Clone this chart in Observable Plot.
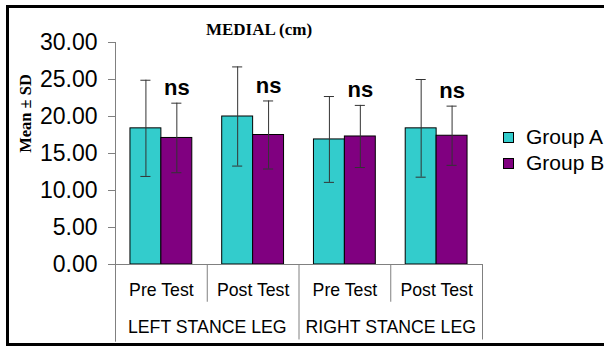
<!DOCTYPE html>
<html>
<head>
<meta charset="utf-8">
<script src="https://cdn.jsdelivr.net/npm/d3@7"></script>
<script src="https://cdn.jsdelivr.net/npm/@observablehq/plot@0.6"></script>
<style>
  html, body { margin: 0; padding: 0; background: #fff; }
  #wrap { position: relative; width: 604px; height: 347px; overflow: hidden; }
  #frame { position: absolute; left: 6px; top: 5px; width: 700px; height: 335px;
           border: 3px solid #000; border-right: none; pointer-events: none; }
  .leg { position: absolute; left: 503px; font-family: "Liberation Sans", Arial, sans-serif;
         font-size: 21px; color: #000; display: flex; align-items: center; height: 24px;
         white-space: nowrap; width: 120px; }
  .sw { flex: none; width: 9px; height: 9px; border: 1px solid #000; margin-right: 12px; }
</style>
</head>
<body>
<div id="wrap">
  <div id="chart"></div>
  <div id="frame"></div>
  <div id="legend"></div>
</div>
<script>
const categories = ["Pre Test", "Post Test", "Pre Test", "Post Test"];
const legs = ["LEFT STANCE LEG", "RIGHT STANCE LEG"];
const groups = ["Group A", "Group B"];
const colors = ["#33CCCC", "#800080"];
const meanA = [18.4, 20.0, 16.9, 18.4];
const sdA = [6.5, 6.7, 5.8, 6.6];
const meanB = [17.1, 17.5, 17.3, 17.4];
const sdB = [4.7, 4.6, 4.2, 4.0];
const yTicks = [0, 5, 10, 15, 20, 25, 30];
const title = "MEDIAL (cm)";
const yLabel = "Mean ± SD";
const sigLabel = "ns";

const pad = 0.163;
const bars = categories.flatMap((c, i) => [
  {i, g: groups[0], mean: meanA[i], sd: sdA[i], x1: i + pad, x2: i + 0.5},
  {i, g: groups[1], mean: meanB[i], sd: sdB[i], x1: i + 0.5, x2: i + 1 - pad}
]).map(d => ({...d, c: (d.x1 + d.x2) / 2}));
const barsB = bars.filter(d => d.g === groups[1]);
const cap = 0.055;
const bounds = d3.range(categories.length + 1);

const chart = Plot.plot({
  width: 604, height: 347,
  marginLeft: 115, marginRight: 122, marginTop: 42, marginBottom: 83,
  x: {domain: [0, categories.length], axis: null},
  y: {domain: [0, 30], axis: null},
  color: {domain: groups, range: colors},
  style: {fontFamily: "'Liberation Sans', Arial, sans-serif", background: "transparent", color: "#000"},
  marks: [
    Plot.rect(bars, {x1: "x1", x2: "x2", y1: 0, y2: "mean", fill: "g", stroke: "#000", strokeWidth: 1}),
    Plot.ruleX(bars, {x: "c", y1: d => d.mean - d.sd, y2: d => d.mean + d.sd, stroke: "#333", strokeWidth: 1}),
    Plot.ruleY(bars, {x1: d => d.c - cap, x2: d => d.c + cap, y: d => d.mean + d.sd, stroke: "#333"}),
    Plot.ruleY(bars, {x1: d => d.c - cap, x2: d => d.c + cap, y: d => d.mean - d.sd, stroke: "#333"}),
    Plot.ruleY([0], {x1: 0, x2: categories.length, stroke: "#808080"}),
    Plot.ruleX([0], {y1: 30, y2: -10.5, stroke: "#808080"}),
    Plot.ruleX(bounds.filter(b => b > 0 && b % 2 === 0), {y1: 0, y2: -10.2, stroke: "#808080"}),
    Plot.ruleX(bounds.filter(b => b % 2 === 1), {y1: 0, y2: -5.1, stroke: "#808080"}),
    Plot.axisY({ticks: yTicks, tickFormat: d3.format(".2f"), tickSize: 7, tickPadding: 11,
                fontSize: 23, stroke: "#808080", fill: "#000", label: null}),
    Plot.text(categories, {x: (d, i) => i + 0.5, y: -3.5, fontSize: 17.7, fill: "#000"}),
    Plot.text(legs, {x: (d, i) => 2 * i + 1, y: -8.5, fontSize: 17.7, fill: "#000"}),
    Plot.text(barsB, {x: "c", y: d => d.mean + d.sd, text: () => sigLabel, dy: -8, lineAnchor: "bottom",
                      fontWeight: "bold", fontSize: 22, fill: "#000"}),
    Plot.text([title], {frameAnchor: "top", dx: -40, dy: -12.5, lineAnchor: "middle",
                        fontFamily: "'Liberation Serif', 'Times New Roman', serif", fontWeight: "bold", fontSize: 17, fill: "#000"}),
    Plot.text([yLabel], {frameAnchor: "left", dx: -90, dy: -40, rotate: -90, lineAnchor: "middle", textAnchor: "middle",
                         fontFamily: "'Liberation Serif', 'Times New Roman', serif", fontWeight: "bold", fontSize: 16.5, fill: "#000"})
  ]
});
document.getElementById("chart").appendChild(chart);

const legend = document.getElementById("legend");
groups.forEach((g, i) => {
  const el = document.createElement("div");
  el.className = "leg";
  el.style.top = (125 + i * 26) + "px";
  el.innerHTML = `<span class="sw" style="background:${colors[i]}"></span><span>${g}</span>`;
  legend.appendChild(el);
});
</script>
</body>
</html>
